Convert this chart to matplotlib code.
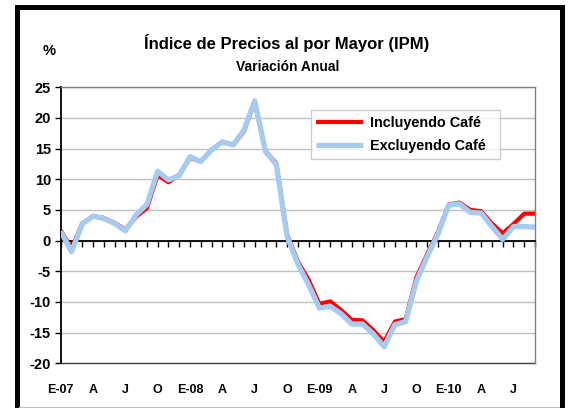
import matplotlib
matplotlib.use('Agg')
import matplotlib.pyplot as plt
from matplotlib.patches import Rectangle
from matplotlib.lines import Line2D
import numpy as np

plt.rcParams['font.family'] = ['Liberation Sans', 'DejaVu Sans']
plt.rcParams['font.weight'] = 'bold'
plt.rcParams['axes.unicode_minus'] = False

# monthly values, Jan 2007 .. Sep 2010
incluyendo = [1.7, -1.3, 2.8, 4.0, 3.7, 2.9, 1.8, 3.9, 5.3, 10.7, 9.5, 10.8,
              13.5, 12.9, 14.8, 16.1, 15.6, 17.8, 22.6, 14.6, 12.6, 1.0, -3.4, -6.4,
              -10.3, -9.9, -11.3, -12.9, -13.0, -14.6, -16.5, -13.2, -12.8, -6.0, -2.2, 1.4,
              5.9, 6.2, 5.0, 4.8, 2.8, 1.2, 2.7, 4.4, 4.4]
excluyendo = [1.5, -1.8, 2.7, 4.0, 3.6, 2.8, 1.6, 4.2, 5.9, 11.3, 9.9, 10.6,
              13.7, 12.9, 14.8, 16.1, 15.6, 18.0, 22.8, 14.5, 12.4, 0.7, -3.8, -7.2,
              -11.0, -10.7, -11.9, -13.6, -13.6, -15.2, -17.3, -13.7, -13.2, -6.6, -2.6, 1.1,
              5.8, 6.0, 4.6, 4.5, 2.3, 0.2, 2.3, 2.3, 2.2]
tick_labels = ['E-07', 'A', 'J', 'O', 'E-08', 'A', 'J', 'O', 'E-09', 'A', 'J', 'O',
               'E-10', 'A', 'J']

months = np.arange(len(incluyendo))

fig = plt.figure(figsize=(5.68, 4.08), dpi=100)
ax = fig.add_axes([60.7 / 568, 1 - 363.3 / 408, (535 - 60.7) / 568, (363.3 - 87.3) / 408])

ax.plot(months, incluyendo, color='#FF0000', lw=3.0, solid_joinstyle='round',
        solid_capstyle='butt', label='Incluyendo Café', zorder=3)
ax.plot(months, excluyendo, color='#A6CAF0', lw=3.8, solid_joinstyle='round',
        solid_capstyle='butt', label='Excluyendo Café', zorder=4)

ax.set_xlim(0, len(incluyendo) - 1)
ax.set_ylim(-20, 25)
ax.set_yticks(np.arange(-20, 26, 5))
ax.yaxis.grid(True, color='#C0C0C0', lw=1.0)
ax.set_axisbelow(True)
ax.tick_params(axis='y', direction='out', length=4, width=1, pad=3, labelsize=10.5)

# x axis line crossing at zero with monthly ticks
ax.spines['bottom'].set_position(('data', 0))
ax.spines['bottom'].set_linewidth(1.3)
ax.set_xticks(months)
ax.tick_params(axis='x', direction='out', length=4, width=1, labelbottom=False)
ax.spines['left'].set_linewidth(1.3)
for s in ['top', 'right']:
    ax.spines[s].set_color('#808080')
    ax.spines[s].set_linewidth(1.0)

# category labels at the bottom of the plot area
sec = ax.secondary_xaxis('bottom')
sec.set_xticks(months[::3])
sec.set_xticklabels(tick_labels, fontsize=9, fontweight='bold')
sec.tick_params(length=0, pad=15)
sec.spines['bottom'].set_color('#404040')
sec.spines['bottom'].set_linewidth(1.0)

leg = ax.legend(loc='upper left', bbox_to_anchor=(0.527, 0.744, 0.399, 0.174),
                mode='expand', frameon=True, fancybox=False,
                handlelength=3.2, handletextpad=0.5, borderpad=0.39, labelspacing=0.66,
                borderaxespad=0, prop={'weight': 'bold', 'size': 10.4})
leg.get_frame().set_edgecolor('#C0C0C0')
leg.get_frame().set_linewidth(1.0)

fig.text(287 / 568, 1 - 43 / 408, 'Índice de Precios al por Mayor (IPM)', ha='center',
         va='center', fontsize=12, fontweight='bold')
fig.text(287.5 / 568, 1 - 67 / 408, 'Variación Anual', ha='center', va='center',
         fontsize=10, fontweight='bold')
fig.text(49 / 568, 1 - 51 / 408, '%', ha='center', va='center', fontsize=10.5,
         fontweight='bold')

# chart border
fig.patches.append(Rectangle((16.5 / 568, -4 / 408), 545 / 568, 405.5 / 408,
                             transform=fig.transFigure, fill=False, ec='black',
                             lw=3.6, clip_on=False))
fig.lines.append(Line2D([19 / 568, 559 / 568], [1.5 / 408, 1.5 / 408],
                        transform=fig.transFigure, color='#C0C0C0', lw=0.8))

fig.savefig('out.png', dpi=100)
